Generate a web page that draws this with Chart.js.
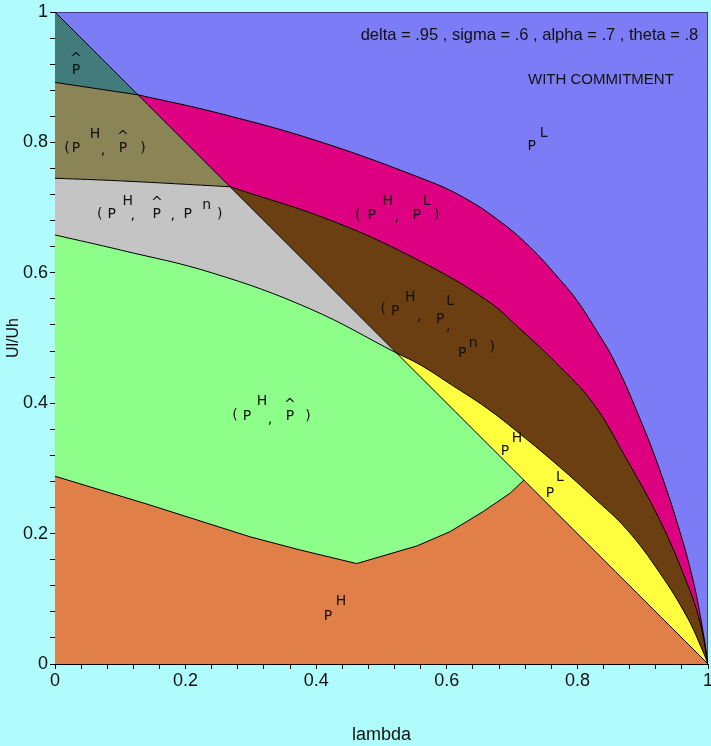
<!DOCTYPE html>
<html>
<head>
<meta charset="utf-8">
<script src="https://cdn.jsdelivr.net/npm/chart.js@4.4.0/dist/chart.umd.min.js"></script>
<style>
  html, body { margin: 0; padding: 0; background: #b0fcfc; }
  #wrap { width: 711px; height: 746px; }
</style>
</head>
<body>
<div id="wrap"><canvas id="regions" width="711" height="746"></canvas></div>
<script>
// boundary curves, [lambda, Ul/Uh]
// A, B, C change regime where they meet the diagonal, so they are kept in two pieces
var diagLine = [[0, 1], [1, 0]];
var topEdge = [[0, 1], [1, 1]];
var frameEdge = [[0, 1], [1, 1], [1, 0]];
var curveALeft = [[0, 0.892], [0.127, 0.873]];
var curveARight = [[0.127, 0.873], [0.25, 0.845], [0.406, 0.801], [0.574, 0.740], [0.625, 0.716],
  [0.676, 0.683], [0.727, 0.640], [0.778, 0.584], [0.799, 0.558], [0.827, 0.515], [0.858, 0.462],
  [0.900, 0.366], [0.926, 0.298], [0.953, 0.216], [0.977, 0.129], [0.992, 0.052], [1, 0]];
var curveBLeft = [[0, 0.745], [0.1, 0.741], [0.268, 0.732]];
var curveBRight = [[0.268, 0.732], [0.426, 0.679], [0.559, 0.618], [0.661, 0.558], [0.712, 0.514],
  [0.766, 0.463], [0.824, 0.400], [0.876, 0.313], [0.926, 0.221], [0.968, 0.124], [0.988, 0.063], [1, 0]];
var curveCLeft = [[0, 0.658], [0.1, 0.635], [0.24, 0.600], [0.39, 0.545], [0.523, 0.477]];
var curveCRight = [[0.523, 0.477], [0.559, 0.459], [0.609, 0.427], [0.662, 0.392], [0.712, 0.353],
  [0.773, 0.302], [0.824, 0.256], [0.876, 0.206], [0.926, 0.140], [0.968, 0.072], [0.992, 0.020], [1, 0]];
var curveD = [[0, 0.288], [0.145, 0.244], [0.299, 0.195], [0.375, 0.175], [0.462, 0.154], [0.554, 0.181],
  [0.605, 0.203], [0.656, 0.234], [0.697, 0.262], [0.718, 0.282]];

var xTicks = [0, 0.2, 0.4, 0.6, 0.8, 1];
var yTicks = [0, 0.2, 0.4, 0.6, 0.8, 1];

var paramText = 'delta = .95 , sigma = .6 , alpha = .7 , theta = .8';
var modeText = 'WITH COMMITMENT';

// region labels: anchor in data units, pieces offset in pixels
var regionLabels = [
  { at: [0.032, 0.905], parts: [['P', 0, 0], ['^', 0, -11]] },
  { at: [0.032, 0.785], parts: [['(', -9, 0], ['P', 0, 0], ['H', 19, -14], [',', 27, 2], ['P', 47, 0], ['^', 47, -11], [')', 67, 0]] },
  { at: [0.087, 0.684], parts: [['(', -12, 0], ['P', 0, 0], ['H', 16, -13], [',', 21, 1], ['P', 45, 0], ['^', 45, -11], [',', 61, 1], ['P', 76, 0], ['n', 95, -9], [')', 108, 0]] },
  { at: [0.485, 0.683], parts: [['(', -14, 0], ['P', 0, 0], ['H', 16, -14], [',', 25, 2], ['P', 45, 0], ['L', 55, -14], [')', 65, 0]] },
  { at: [0.521, 0.535], parts: [['(', -12, -2], ['P', 0, 0], ['H', 15, -14], [',', 24, 5], ['P', 45, 8], ['L', 55, -10], [',', 53, 15], ['P', 67, 42], ['n', 78, 32], [')', 97, 36]] },
  { at: [0.294, 0.374], parts: [['(', -12, -1], ['P', 0, 0], ['H', 15, -15], [',', 23, 3], ['P', 43, 0], ['^', 43, -11], [')', 61, 0]] },
  { at: [0.689, 0.321], parts: [['P', 0, 0], ['H', 12, -13]] },
  { at: [0.758, 0.256], parts: [['P', 0, 0], ['L', 10, -16]] },
  { at: [0.418, 0.067], parts: [['P', 0, 0], ['H', 13, -15]] },
  { at: [0.730, 0.788], parts: [['P', 0, 0], ['L', 12, -13]] }
];

var NONE = 'rgba(0,0,0,0)';

function pts(arr) {
  return arr.map(function (p) { return { x: p[0], y: p[1] }; });
}

// D has a sharp corner at its minimum, so it stays a plain polyline
function bend(arr) {
  return arr === curveD ? 0 : 0.4;
}

function area(arr, color, order) {
  return { data: pts(arr), backgroundColor: color, borderWidth: 0, fill: 'start', pointRadius: 0,
    order: order, tension: bend(arr) };
}
// fill between the diagonal and a boundary piece, where the diagonal lies above it
function diagTo(target, color, order) {
  return { data: pts(diagLine), backgroundColor: color, borderWidth: 0, pointRadius: 0, order: order,
    fill: { target: target, above: color, below: NONE } };
}
function edge(arr) {
  return { data: pts(arr), borderColor: '#000', borderWidth: 1, fill: false, pointRadius: 0,
    order: 1, tension: bend(arr) };
}

function tickLabel(list) {
  return function (value) {
    for (var i = 0; i < list.length; i++) {
      if (Math.abs(list[i] - value) < 1e-6) return String(list[i]);
    }
    return '';
  };
}

var labelPlugin = {
  id: 'regionLabels',
  afterDatasetsDraw: function (chart) {
    var ctx = chart.ctx, sx = chart.scales.x, sy = chart.scales.y;
    ctx.save();
    ctx.fillStyle = '#111';
    ctx.textBaseline = 'alphabetic';
    ctx.textAlign = 'center';
    ctx.font = '14px "DejaVu Sans"';
    regionLabels.forEach(function (lab) {
      var px = sx.getPixelForValue(lab.at[0]), py = sy.getPixelForValue(lab.at[1]);
      lab.parts.forEach(function (p) { ctx.fillText(p[0], px + p[1], py + p[2]); });
    });
    ctx.font = '16.5px "Liberation Sans"';
    ctx.textAlign = 'right';
    ctx.fillText(paramText, sx.getPixelForValue(0.985), sy.getPixelForValue(0.957));
    ctx.font = '15px "Liberation Sans"';
    ctx.textAlign = 'center';
    ctx.fillText(modeText, sx.getPixelForValue(0.836), sy.getPixelForValue(0.890));
    ctx.restore();
  }
};

// indexes 0..8 are the black boundaries, some also serve as fill targets
var datasets = [
  edge(curveALeft), edge(curveARight), edge(curveBLeft), edge(curveBRight),
  edge(curveCLeft), edge(curveCRight), edge(curveD),
  edge(diagLine), edge(frameEdge),
  area(topEdge, '#7c7cf6', 20),
  area(curveARight, '#dd0080', 19),
  area(curveBRight, '#6c3f12', 18),
  area(curveCRight, '#ffff40', 17),
  area(diagLine, '#e07f48', 16),
  diagTo(6, '#8efe8a', 15),
  diagTo(4, '#c4c4c4', 14),
  diagTo(2, '#8b8457', 13),
  diagTo(0, '#417b7b', 12)
];

new Chart(document.getElementById('regions'), {
  type: 'line',
  data: { datasets: datasets },
  options: {
    responsive: false,
    animation: false,
    layout: { padding: { top: 12, right: 3, left: 0, bottom: 0 } },
    plugins: { legend: { display: false }, tooltip: { enabled: false } },
    scales: {
      x: {
        type: 'linear', min: 0, max: 1,
        border: { color: '#000', width: 1 },
        grid: { drawOnChartArea: false, tickLength: 5, color: '#000' },
        ticks: { stepSize: 0.04, autoSkip: false, maxRotation: 0, padding: 1, color: '#111',
          font: { family: 'Liberation Sans', size: 18 }, callback: tickLabel(xTicks) },
        title: { display: true, text: 'lambda', color: '#111', padding: { top: 0, bottom: 0 },
          font: { family: 'Liberation Sans', size: 18 } },
        afterFit: function (s) { s.height = 82; s.paddingLeft = 0; s.paddingRight = 0; }
      },
      y: {
        type: 'linear', min: 0, max: 1,
        border: { color: '#000', width: 1 },
        grid: { drawOnChartArea: false, tickLength: 5, color: '#000' },
        ticks: { stepSize: 0.04, autoSkip: false, padding: 2, color: '#111',
          font: { family: 'Liberation Sans', size: 18 }, callback: tickLabel(yTicks) },
        title: { display: true, text: 'Ul/Uh', color: '#111', padding: { top: 4, bottom: 0 },
          font: { family: 'Liberation Sans', size: 16 } },
        afterFit: function (s) { s.width = 55; s.paddingTop = 0; s.paddingBottom = 0; }
      }
    }
  },
  plugins: [labelPlugin]
});
</script>
</body>
</html>
